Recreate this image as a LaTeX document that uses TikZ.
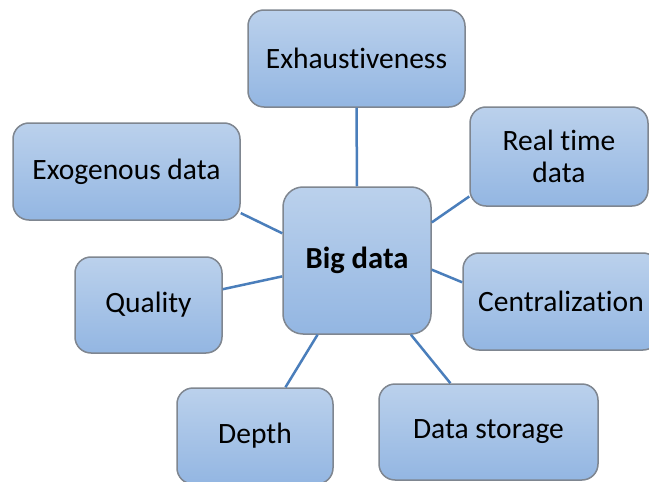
\documentclass[tikz,border=0pt]{standalone}
\usepackage{fontspec}
\setmainfont{Carlito}[Ligatures={NoCommon,NoRare}, Contextuals=NoAlternate]
\definecolor{boxtop}{HTML}{BBD1EC}
\definecolor{boxbot}{HTML}{93B6E2}
\definecolor{boxline}{HTML}{7F8690}
\definecolor{linkblue}{HTML}{4A7EBB}
\tikzset{
  box/.style={draw=boxline, line width=0.75pt, rounded corners=8pt,
    top color=boxtop, bottom color=boxbot, inner sep=0pt, align=center,
    font=\fontsize{14.75}{16}\selectfont, text=black},
  link/.style={draw=linkblue, line width=1.25pt}
}
\begin{document}
\begin{tikzpicture}[x=0.5pt,y=-0.5pt]
\useasboundingbox (0,0) rectangle (649,482);
\clip (0,0) rectangle (649,482);
\fill[white] (0,0) rectangle (649,482);
\node[box, minimum width=108.5pt, minimum height=48.5pt] (exh) at (356.5,58.5) {Exhaustiveness};
\node[box, minimum width=89pt, minimum height=49.5pt] (rt) at (559,156.5) {Real time\\data};
\node[box, minimum width=98pt, minimum height=48.5pt] (cen) at (561,301.5) {Centralization};
\node[box, rounded corners=10pt, minimum width=74pt, minimum height=73.5pt, font=\fontsize{15.3}{16}\selectfont\bfseries] (big) at (357,260.5) {Big data};
\node[box, minimum width=113.5pt, minimum height=48.5pt] (exo) at (126.5,171.5) {Exogenous data};
\node[box, minimum width=73.5pt, minimum height=48pt] (q) at (148.5,305) {Quality};
\node[box, minimum width=78pt, minimum height=48pt] (dep) at (255,436) {\raisebox{-1pt}{Depth}};
\node[box, minimum width=109.5pt, minimum height=48pt] (ds) at (488.5,432) {\raisebox{-1pt}{Data storage}};
\draw[link] (exh.south) -- (big.north);
\draw[link] (rt.204) -- (big.27);
\draw[link] (cen.169) -- (big.-7);
\draw[link] (exo.-20) -- (big.160);
\draw[link] (q.12) -- (big.192);
\draw[link] (dep.58) -- (big.242);
\draw[link] (ds.128) -- (big.-54);
\end{tikzpicture}
\end{document}
